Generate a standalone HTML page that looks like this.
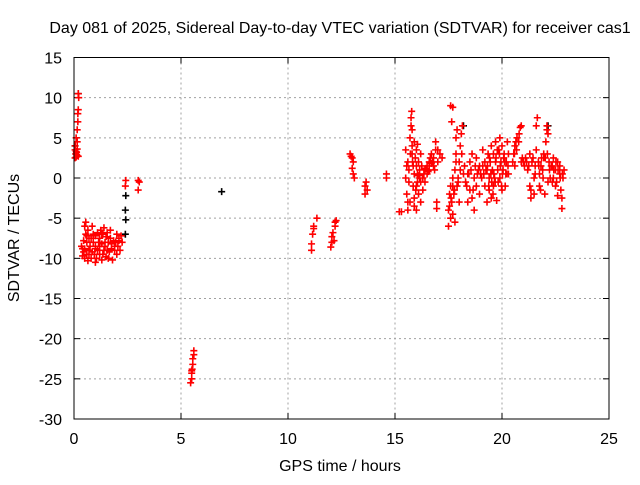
<!DOCTYPE html>
<html><head><meta charset="utf-8"><style>
body{margin:0;background:#fff}
svg text{font-family:"Liberation Sans",sans-serif;font-size:16px;fill:#000}
</style></head><body>
<svg id="chart" width="640" height="480" xmlns="http://www.w3.org/2000/svg">
<rect width="640" height="480" fill="#fff"/>
<text x="340" y="33" text-anchor="middle">Day 081 of 2025, Sidereal Day-to-day VTEC variation (SDTVAR) for receiver cas1</text>
<text x="340" y="471" text-anchor="middle">GPS time / hours</text>
<text transform="translate(19,238) rotate(-90)" text-anchor="middle">SDTVAR / TECUs</text>
<g id="grid"></g>
<g id="ticks"></g>
<g id="blk"></g>
<g id="red"></g>
<rect x="74" y="57.5" width="535" height="361.5" fill="none" stroke="#000" stroke-width="1"/>
</svg>
<script>
const xTicks=[0,5,10,15,20,25];
const yTicks=[15,10,5,0,-5,-10,-15,-20,-25,-30];
const blackHours=[2.4,2.42,2.4,2.42,6.9,0.2,22.15,18.2,0.05];
const blackValues=[-7,-5.2,-4,-2.2,-1.7,10.5,6.5,6.5,4];
const redHours=[0.05,0.05,0.08,0.1,0.12,0.15,0.1,0.15,0.18,0.18,0.2,0.22,0.2,0.15,0.05,0.2,
0.35,0.4,0.45,0.5,0.5,0.55,0.55,0.6,0.6,0.65,0.7,0.7,0.75,0.8,0.85,0.9,0.9,0.95,1.0,1.0,1.05,1.1,1.1,1.15,1.2,1.2,1.25,1.3,1.3,1.35,1.4,1.4,1.45,1.5,1.5,1.55,1.6,1.65,1.7,1.7,1.75,1.8,1.85,1.9,1.95,2.0,2.0,2.05,2.1,2.15,2.2,2.25,0.45,0.65,1.0,1.6,0.85,1.35,
2.42,2.4,3.0,3.05,3.0,
5.45,5.5,5.5,5.52,5.55,5.55,5.6,5.6,5.5,
11.1,11.1,11.15,11.2,11.2,11.35,
12.0,12.05,12.05,12.1,12.15,12.2,12.2,12.25,
12.9,12.95,13.0,13.05,13.0,13.05,13.1,
13.6,13.65,13.6,13.7,14.6,14.6,15.2,15.3,
15.5,15.5,15.55,15.6,15.6,15.65,15.7,15.7,15.75,15.78,15.8,15.8,15.85,15.85,15.9,15.9,15.95,16.0,16.0,16.05,16.1,16.1,16.15,16.2,16.2,16.3,16.3,16.4,16.4,16.5,16.5,16.6,16.6,16.7,16.7,16.8,16.8,16.9,16.9,17.0,17.0,16.95,16.95,16.2,16.0,15.9,17.1,17.2,16.05,
17.5,17.5,17.55,17.6,17.6,17.65,17.7,17.7,17.75,17.8,17.8,17.85,17.85,17.9,17.9,17.95,18.0,18.0,18.05,18.1,18.15,18.2,17.6,17.7,17.65,
18.3,18.4,18.4,18.5,18.5,18.6,18.6,18.7,18.7,18.8,18.8,18.9,18.95,19.0,19.1,19.1,19.2,19.2,
19.3,19.3,19.35,19.4,19.4,19.45,19.5,19.5,19.55,19.6,19.6,19.65,19.7,19.7,19.75,19.8,19.85,19.9,19.9,19.95,20.0,20.0,20.05,20.1,20.15,20.2,20.25,20.3,20.3,
20.5,20.55,20.6,20.65,20.7,20.8,20.85,20.9,20.6,20.9,21.0,21.1,21.2,21.3,21.3,21.35,21.4,21.5,21.5,21.6,21.65,21.6,21.7,21.75,21.8,21.85,21.9,21.95,22.0,22.05,22.1,22.1,22.15,22.2,22.25,22.3,22.35,22.4,22.5,22.5,22.6,22.7,22.75,22.8,22.8,22.85,22.9,22.6,22.4,
0.1,0.12,0.15,0.5,0.6,0.8,1.0,1.2,1.45,1.75,1.9,2.1,0.7,1.3,1.55,0.4,
15.55,15.65,15.72,15.8,15.9,15.97,16.05,16.15,16.25,16.35,16.45,16.55,16.65,16.75,16.85,15.6,15.75,15.82,16.0,16.1,
17.55,17.62,17.7,17.78,17.85,17.95,18.05,18.12,18.25,18.35,18.45,18.55,18.65,18.75,18.85,18.95,19.05,19.15,19.25,
19.32,19.42,19.52,19.62,19.72,19.82,19.92,20.02,20.12,20.22,19.38,19.58,19.78,19.98,20.18,19.48,19.68,19.88,20.08,20.28,
20.58,20.68,20.78,20.95,21.05,21.15,21.25,21.45,21.55,21.72,21.82,21.92,22.02,22.12,22.22,22.32,22.42,22.52,22.62,22.72,22.82,21.35,21.55,21.75,21.95,22.15,22.35,22.55,22.7,22.85];
const redValues=[4,3.5,3,2.6,3.2,2.8,5,6,7,8,8.5,10,10.5,4.5,2.5,2.7,
-8.5,-8.8,-9.2,-10,-6,-5.5,-7,-8,-9.5,-10.3,-9,-7.5,-8.5,-10,-9.2,-8,-7,-9.5,-8.5,-7.2,-10,-9,-6.8,-8,-7.5,-9.5,-6.5,-8.2,-10.2,-7,-9,-6.2,-8.5,-7.3,-9.8,-6.8,-8,-9.2,-7.5,-6.5,-8.8,-10.2,-7.8,-9,-8,-7,-9.5,-8.5,-7.5,-9,-7.2,-8,-7.8,-6.5,-10.5,-10,-6,-9.5,
-0.3,-1,-0.3,-0.5,-1.5,
-25.5,-25,-24.3,-23.8,-23.2,-22.5,-22,-21.5,-24,
-9,-8.2,-7,-6.3,-6,-5,
-8.6,-8,-7.3,-6.8,-7.8,-6,-5.5,-5.3,
3,2.7,2.5,2,1.2,0.5,0,
-1,-0.5,-2,-1.5,0.5,0,-4.2,-4.2,
3.5,0,-2,-4,2,1,-3,5,7.5,8.3,6,3,-1,1.5,4.5,-2.5,2.5,-1,3.5,0.5,-2,2,1,-0.5,3,0,-1.5,1,-0.5,1.5,0.5,2,1,3,1.8,2.5,1.5,3.5,4.5,2,3.5,-3,-3.8,-3,-4,-3.5,3,2.5,4.2,
-6,-4,-2,-5,-1,-3,-4.5,0,-2,1,-5.5,3,5,-1,6,0,2,-3,4,5.5,6.5,0.5,9,8.8,7,
-0.5,0.5,-3,2,-1.5,3,-2.5,-4,0,2.5,-1,1,-2,0.5,1.5,3.5,-1,2,
-3,1,3,-1.5,0,2,4,-2.5,1,3,-1,0,4.5,2,-2.8,1,3.5,0,5,2,-1.5,4,1,3,-1,2,4.5,0.5,3,
2,3,4,4.5,5,5.5,6.3,6.5,1.5,2,2,2.5,1,3,-1,-2.5,2,0,-2,3.5,7.5,6.5,2,0.5,-1.5,2.5,1,3,-2,4.5,6,6.5,5.5,2,0,1.5,-0.5,2.5,1,-1,2,0.5,-1.5,-2.5,-3.8,0,1,-2.2,0,
3.3,2.9,3.6,-8.8,-7.2,-7.5,-8.8,-8.5,-8,-8.2,-8.5,-7.8,-9.5,-7,-9,-9.7,
1.5,-0.5,3,4,0.5,-1.5,-0.5,0,1.5,0.5,1.2,0.8,2.5,2,1,-3,6.5,2,1.5,0.3,
-3.5,-2.5,-1,-1.5,2,-0.5,1,3,1.5,-1,0.5,1,-1.5,1.5,0.5,1.5,0,0.5,1,
1.5,2.5,-0.5,0.5,2.5,-0.5,1.5,0.5,2,0.5,-1,-2,3.5,-1,0.5,0.5,-0.5,3,2.5,1.5,
3,3.5,4.5,2.5,1.5,2,1.5,2.5,1.5,1.5,1.5,0,2.5,3,1,1.5,1,2,1,0,0.5,-1.5,0.5,-1,2.5,-0.5,1.5,-0.5,1.5];
const X0=74,X1=609,Y0=419,Y1=57.5,xmin=0,xmax=25,ymin=-30,ymax=15;
const sx=h=>X0+(h-xmin)/(xmax-xmin)*(X1-X0);
const sy=v=>Y0-(v-ymin)/(ymax-ymin)*(Y0-Y1);
const NS='http://www.w3.org/2000/svg';
function mk(tag,at,parent){const e=document.createElementNS(NS,tag);for(const k in at)e.setAttribute(k,at[k]);parent.appendChild(e);return e;}
const grid=document.getElementById('grid'),ticks=document.getElementById('ticks');
xTicks.forEach(t=>{const x=sx(t);
 if(t>xmin&&t<xmax){const l=mk('line',{x1:x,x2:x,y1:Y1,y2:Y0,stroke:'#a0a0a0','stroke-dasharray':'2,3'},grid);
 
 }
 mk('line',{x1:x,x2:x,y1:Y0,y2:Y0-6,stroke:'#000'},ticks);mk('line',{x1:x,x2:x,y1:Y1,y2:Y1+6,stroke:'#000'},ticks);
 const tx=mk('text',{x:x,y:Y0+25,'text-anchor':'middle'},ticks);tx.textContent=t;
 
 });
yTicks.forEach(t=>{const y=sy(t);
 if(t>ymin&&t<ymax){const l=mk('line',{x1:X0,x2:X1,y1:y,y2:y,stroke:'#a0a0a0','stroke-dasharray':'2,3'},grid);
 
 }
 mk('line',{x1:X0,x2:X0+6,y1:y,y2:y,stroke:'#000'},ticks);mk('line',{x1:X1,x2:X1-6,y1:y,y2:y,stroke:'#000'},ticks);
 const tx=mk('text',{x:X0-12,y:y+6,'text-anchor':'end'},ticks);tx.textContent=t;
 
 });
function plot(hs,vs,col,g,name){let d='';hs.forEach((h,i)=>{const x=sx(h),y=sy(vs[i]);d+=`M${x-3.5},${y}h7M${x},${y-3.5}v7`;});
 const p=mk('path',{d:d,stroke:col,'stroke-width':1.6,fill:'none'},g);
 
 }
plot(blackHours,blackValues,'#000',document.getElementById('blk'),'black-points');
plot(redHours,redValues,'#ff0000',document.getElementById('red'),'red-points');
</script>
</body></html>
